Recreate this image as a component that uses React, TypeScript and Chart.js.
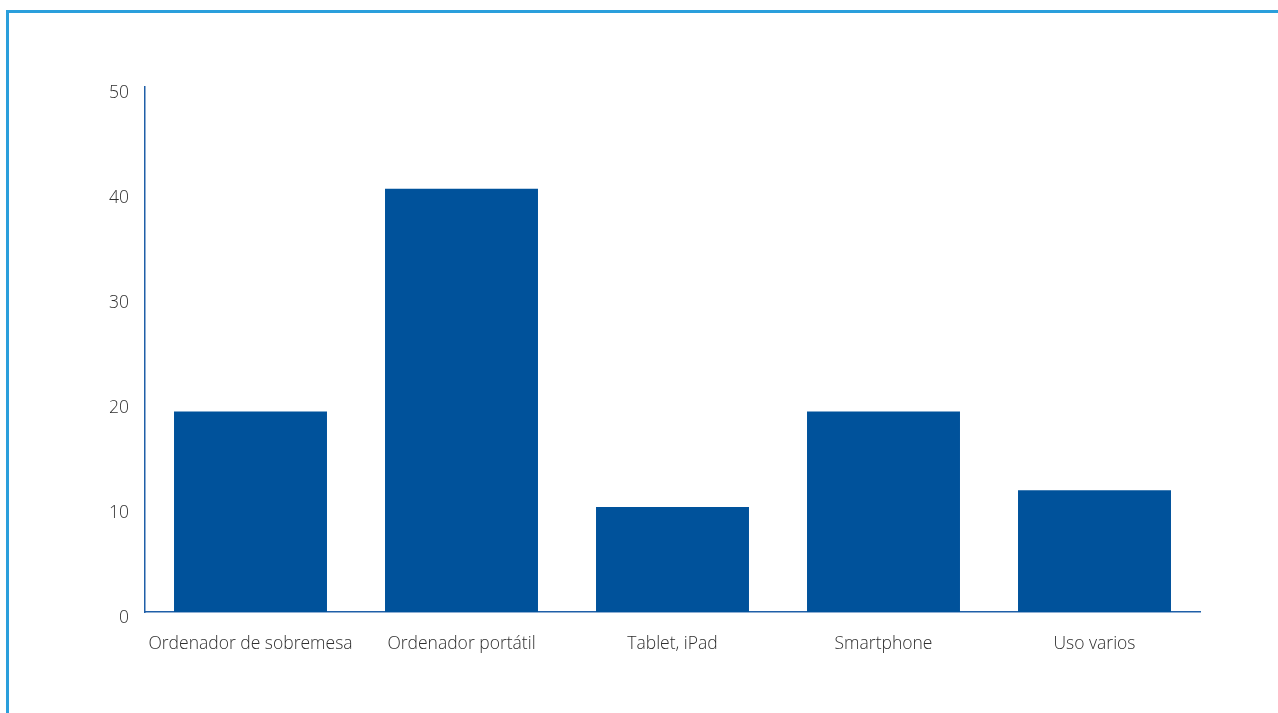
import React, { useEffect, useRef } from "react";
import { Chart, registerables } from "chart.js";

Chart.register(...registerables);

const categories = [
  "Ordenador de sobremesa",
  "Ordenador portátil",
  "Tablet, iPad",
  "Smartphone",
  "Uso varios",
];
const values = [19.1, 40.3, 10.0, 19.1, 11.6];
const yMin = 0;
const yMax = 50;
const yStep = 10;

export default function App() {
  const ref = useRef<HTMLCanvasElement | null>(null);

  useEffect(() => {
    if (!ref.current) return;
    const font = { family: "'Open Sans', sans-serif", size: 17.5, weight: 300 as any };
    const chart = new Chart(ref.current, {
      type: "bar",
      data: {
        labels: categories,
        datasets: [
          {
            data: values,
            backgroundColor: "#00529b",
            borderWidth: 0,
            categoryPercentage: 0.725,
            barPercentage: 1,
          },
        ],
      },
      options: {
        animation: false,
        responsive: false,
        maintainAspectRatio: false,
        layout: { padding: { left: 0, right: 78, top: 87, bottom: 0 } },
        plugins: { legend: { display: false }, tooltip: { enabled: false } },
        scales: {
          x: {
            grid: { display: false, drawTicks: false },
            border: { display: true, color: "#1f5fa8", width: 1.5 },
            ticks: { color: "#2e2e2e", font, padding: 22, maxRotation: 0, autoSkip: false },
            afterFit: (s: any) => {
              s.height = 101;
            },
          },
          y: {
            min: yMin,
            max: yMax,
            grid: { display: false, drawTicks: false },
            border: { display: true, color: "#1f5fa8", width: 1.5 },
            ticks: { stepSize: yStep, color: "#2e2e2e", font, padding: 16, labelOffset: 6 },
            afterFit: (s: any) => {
              s.width = 145;
            },
          },
        },
      },
    });
    return () => chart.destroy();
  }, []);

  return (
    <div style={{ position: "fixed", left: 0, top: 0, width: 1278, height: 713, background: "#fff" }}>
      <div
        style={{
          position: "absolute",
          left: 6,
          top: 10,
          width: 1400,
          height: 800,
          borderTop: "3px solid #2a9fdc",
          borderLeft: "3px solid #2a9fdc",
        }}
      />
      <canvas ref={ref} width={1278} height={713} style={{ position: "absolute", left: 0, top: 0 }} />
    </div>
  );
}
